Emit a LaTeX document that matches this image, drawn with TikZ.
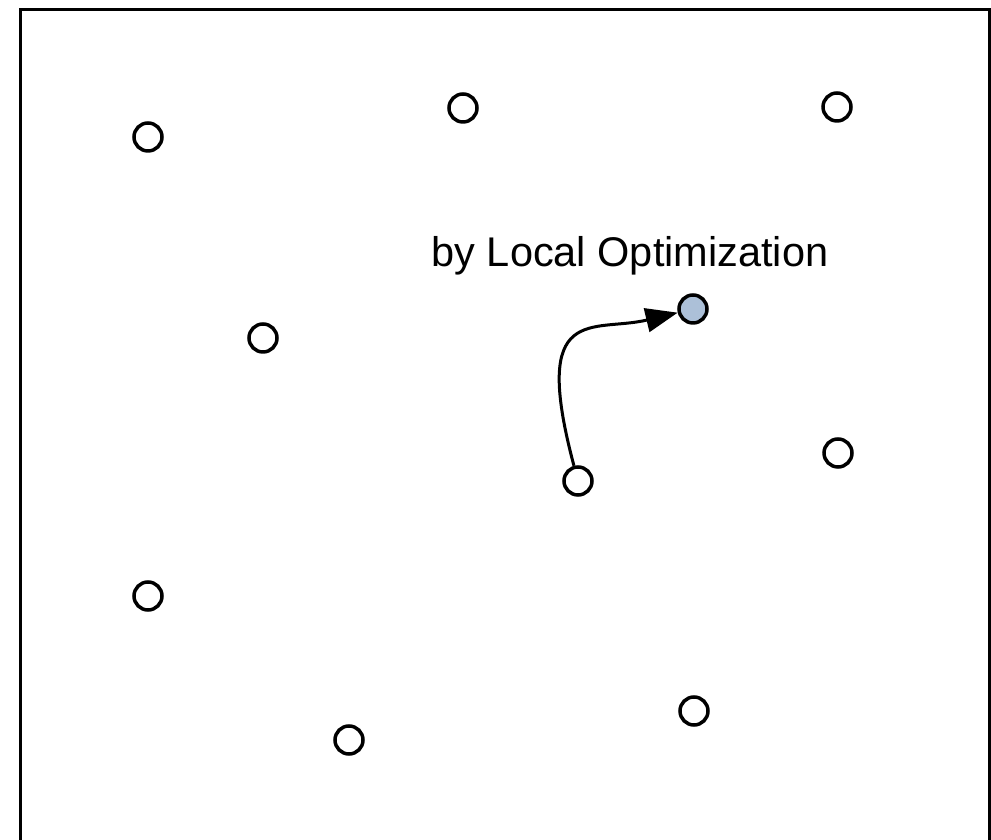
\documentclass[tikz,border=0pt]{standalone}
\usepackage{fontspec}
\setmainfont{Liberation Sans}
\usetikzlibrary{arrows.meta}
\definecolor{optblue}{RGB}{172,192,216}
\tikzset{
    pt/.style = { circle, draw, line width = 3.5pt, minimum size = 28pt, inner sep = 0pt, fill = white },
    best/.style = { pt, fill = optblue },
}
\begin{document}
\begin{tikzpicture}[x = 1pt, y = 1pt]
        \useasboundingbox ( 0, 0 ) rectangle ( 991, 840 );

        % рамка
        \draw [ line width = 3pt ] ( 20, -10 ) -- ( 20, 830 ) -- ( 989, 830 ) -- ( 989, -10 );

        % точки
        \node [pt] (a) at ( 148, 703 ) {};
        \node [pt] (b) at ( 463, 732 ) {};
        \node [pt] (c) at ( 837, 733 ) {};
        \node [pt] (d) at ( 263, 502 ) {};
        \node [pt] (e) at ( 838, 387 ) {};
        \node [pt] (f) at ( 148, 244 ) {};
        \node [pt] (g) at ( 694, 129 ) {};
        \node [pt] (h) at ( 349, 100 ) {};

        % начальная точка
        \node [pt] (start) at ( 578, 359 ) {};
        % лучшая точка
        \node [best] (opt) at ( 693, 531 ) {};
        \node [ anchor = base ] (lbl) at ( 630, 573 ) {\fontsize{41.5}{46}\selectfont by Local Optimization};

        % путь
        \draw [ line width = 3pt, -{Triangle[ length = 32pt, width = 24pt ]} ] (start) .. controls +( -48, 180 ) and +( -100, -24 ) .. (opt);
    \end{tikzpicture}
\end{document}
